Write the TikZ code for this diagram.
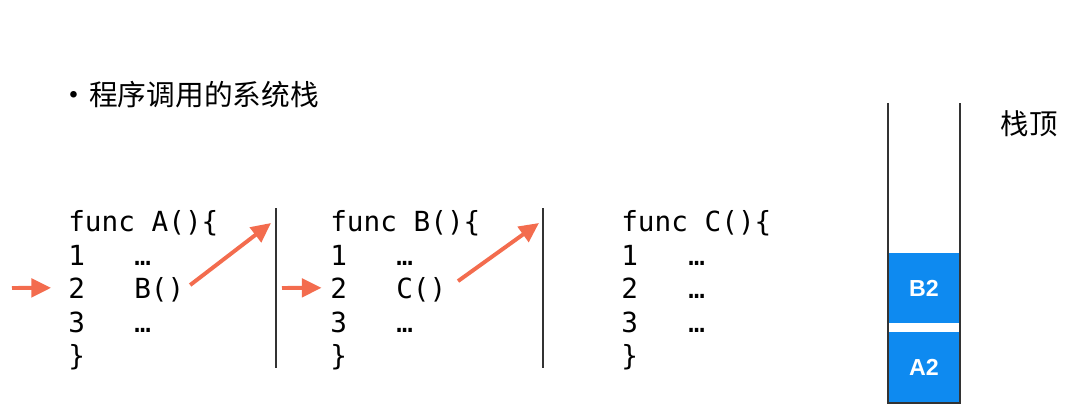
\documentclass[tikz,border=0pt]{standalone}
\usepackage{fontspec}
\newfontfamily\cjk{Noto Sans CJK SC}
\newfontfamily\codefont{DejaVu Sans Mono}
\newfontfamily\framefont{Liberation Sans}
\usetikzlibrary{arrows.meta}
\definecolor{callred}{RGB}{243,108,78}
\definecolor{stackblue}{RGB}{14,138,240}

\begin{document}
\begin{tikzpicture}[x=0.025cm,y=-0.025cm,
    code/.style={anchor=base west,inner sep=0pt,font=\codefont\fontsize{19.7}{23}\selectfont},
    call/.style={callred,line width=2.8pt,-{Triangle[length=14pt,width=13pt]}},
    frame/.style={fill=stackblue,text=white,inner sep=0pt,minimum width=1.8cm,
      font=\framefont\bfseries\fontsize{16.5}{18}\selectfont},
    sep/.style={line width=1.4pt,black!80}]
  \useasboundingbox (0,0) rectangle (1087,420);
  % title
  \node[inner sep=0pt,font=\cjk\fontsize{22}{24}\selectfont] (dot) at (74,99) {•};
  \node[anchor=base west,inner sep=0pt,font=\cjk\fontsize{20.4}{24}\selectfont] (title) at (89,106) {程序调用的系统栈};
  % func A
  \node[code] (ahead) at (68,231) {func A()\{};
  \node[code] (anum1) at (68,265) {1};
  \node[code] (atxt1) at (134,265) {…};
  \node[code] (anum2) at (68,298) {2};
  \node[code] (atxt2) at (134,298) {B()};
  \node[code] (anum3) at (68,332) {3};
  \node[code] (atxt3) at (134,332) {…};
  \node[code] (aend) at (68,365) {\}};
  % func B
  \node[code] (bhead) at (330,231) {func B()\{};
  \node[code] (bnum1) at (330,265) {1};
  \node[code] (btxt1) at (396,265) {…};
  \node[code] (bnum2) at (330,298) {2};
  \node[code] (btxt2) at (396,298) {C()};
  \node[code] (bnum3) at (330,332) {3};
  \node[code] (btxt3) at (396,332) {…};
  \node[code] (bend) at (330,365) {\}};
  % func C
  \node[code] (chead) at (621,231) {func C()\{};
  \node[code] (cnum1) at (621,265) {1};
  \node[code] (ctxt1) at (688,265) {…};
  \node[code] (cnum2) at (621,298) {2};
  \node[code] (ctxt2) at (688,298) {…};
  \node[code] (cnum3) at (621,332) {3};
  \node[code] (ctxt3) at (688,332) {…};
  \node[code] (cend) at (621,365) {\}};
  % separators
  \draw[sep] (276,208)--(276,368);
  \draw[sep] (543,208)--(543,368);
  % calls
  \coordinate (ain) at (12,288);
  \coordinate (bin) at (282,288);
  \coordinate (atob) at (271,223);
  \coordinate (btoc) at (539,223);
  \draw[call,shorten >=12pt] (ain)--(anum2.west);
  \draw[call,shorten <=5pt] (atxt2.east)--(atob);
  \draw[call,shorten >=6pt] (bin)--(bnum2.west);
  \draw[call,shorten <=10pt] (btxt2.east)--(btoc);
  % stack
  \node[frame,minimum height=1.75cm] (b2) at (924,288) {B2};
  \node[frame,minimum height=1.775cm] (a2) at (924,367.5) {A2};
  \draw[sep] (888,103)--(888,403)--(960,403)--(960,103);
  \node[inner sep=0pt,font=\cjk\fontsize{20.2}{24}\selectfont] (top) at (1029,124) {栈顶};
\end{tikzpicture}
\end{document}
